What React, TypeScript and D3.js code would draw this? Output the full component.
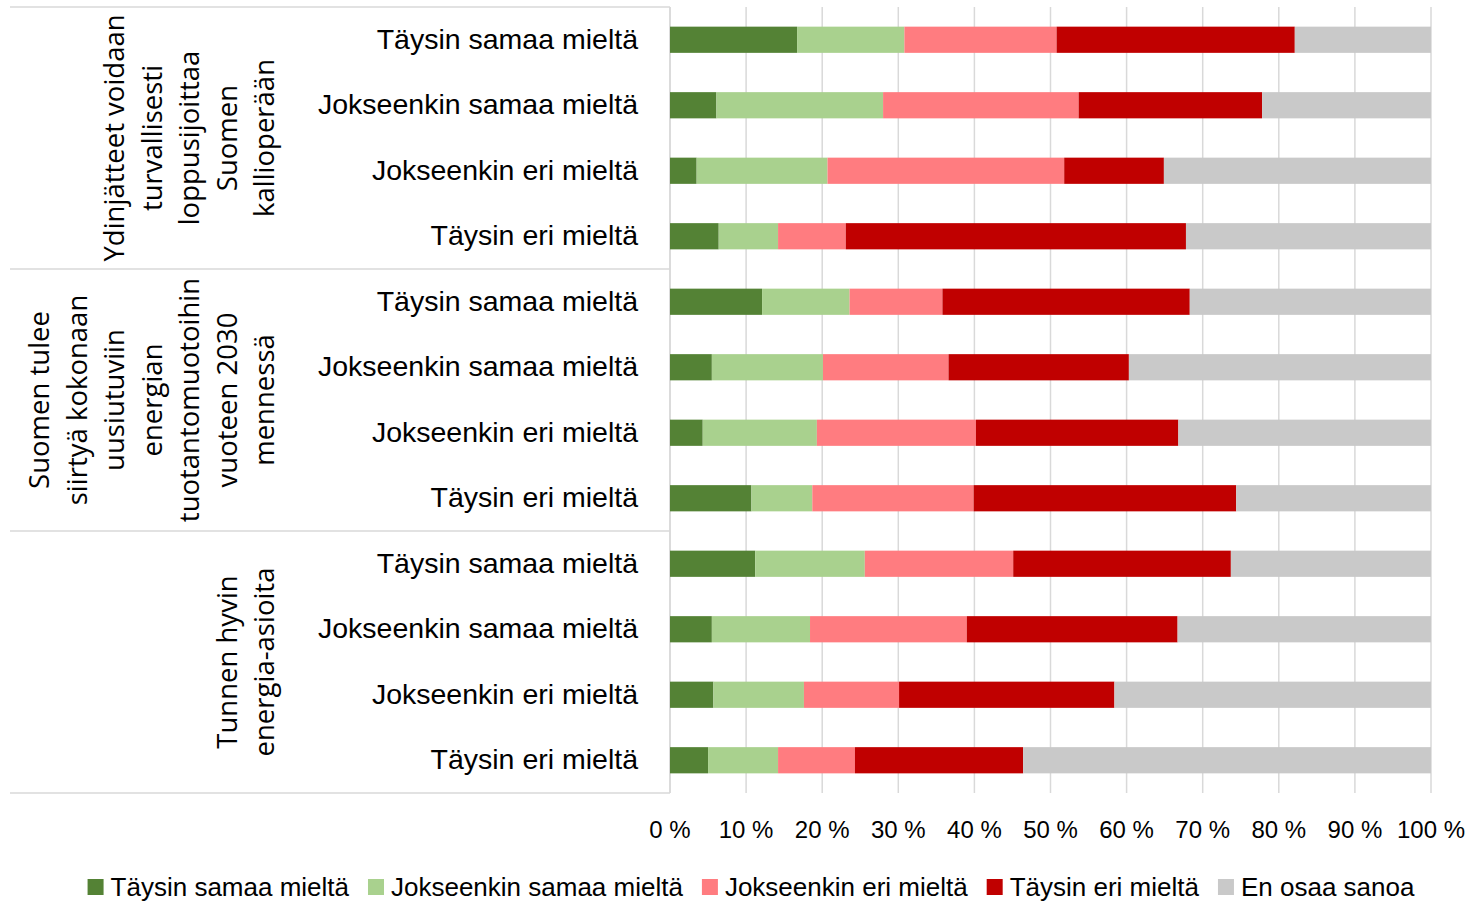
import React, { useEffect } from 'react';
import * as d3 from 'd3';

const answers = ['Täysin samaa mieltä', 'Jokseenkin samaa mieltä', 'Jokseenkin eri mieltä', 'Täysin eri mieltä'];

const groups = [
  ['Ydinjätteet voidaan', 'turvallisesti', 'loppusijoittaa', 'Suomen', 'kallioperään'],
  ['Suomen tulee', 'siirtyä kokonaan', 'uusiutuviin', 'energian', 'tuotantomuotoihin', 'vuoteen 2030', 'mennessä'],
  ['Tunnen hyvin', 'energia-asioita'],
];

const seriesNames = ['Täysin samaa mieltä', 'Jokseenkin samaa mieltä', 'Jokseenkin eri mieltä', 'Täysin eri mieltä', 'En osaa sanoa'];
const seriesColors = ['#548235', '#a9d18e', '#ff7c80', '#c00000', '#c9c9c9'];

// one value per row, top to bottom (percent)
const taysinSamaa = [16.7, 6.1, 3.5, 6.4, 12.1, 5.5, 4.3, 10.7, 11.2, 5.5, 5.7, 5.0];
const jokseenkinSamaa = [14.1, 21.9, 17.2, 7.8, 11.5, 14.6, 15.0, 8.0, 14.4, 12.9, 11.9, 9.2];
const jokseenkinEri = [20.0, 25.7, 31.1, 8.9, 12.2, 16.5, 20.9, 21.2, 19.5, 20.6, 12.5, 10.1];
const taysinEri = [31.3, 24.1, 13.1, 44.7, 32.5, 23.7, 26.6, 34.5, 28.6, 27.7, 28.3, 22.1];
const enOsaa = [17.9, 22.2, 35.1, 32.2, 31.7, 39.7, 33.2, 25.6, 26.3, 33.3, 41.6, 53.6];

const ticks = [0, 10, 20, 30, 40, 50, 60, 70, 80, 90, 100];

const W = 1475;
const H = 902;
const plotL = 670;
const plotR = 1431;
const plotT = 7;
const plotB = 793;
const frameL = 10;

const labelFont = '"Liberation Sans", Arial, sans-serif';
const groupFont = '"Open Sans", sans-serif';

const measure = (text: string, font: string) => {
  const ctx = document.createElement('canvas').getContext('2d');
  if (!ctx) return text.length * 12;
  ctx.font = font;
  return ctx.measureText(text).width;
};

export default function App() {
  useEffect(() => {
    document.body.style.margin = '0';
  }, []);

  const rows = groups.flatMap((g, gi) => answers.map((a, ai) => `${gi}-${ai}`));
  const table = rows.map((id, i) => ({
    id,
    s0: taysinSamaa[i],
    s1: jokseenkinSamaa[i],
    s2: jokseenkinEri[i],
    s3: taysinEri[i],
    s4: enOsaa[i],
  }));
  const keys = ['s0', 's1', 's2', 's3', 's4'];
  const stacked = d3.stack<any>().keys(keys).offset(d3.stackOffsetExpand)(table);

  const x = d3.scaleLinear().domain([0, 1]).range([plotL, plotR]);
  const y = d3.scaleBand<string>().domain(rows).range([plotT, plotB]).paddingInner(0.6).paddingOuter(0.3);
  const step = y.step();
  const groupEdges = groups.map((g, gi) => plotT + gi * answers.length * step).concat([plotB]);

  // legend layout, centred
  const legendFontSize = 26;
  const legendWidths = seriesNames.map(n => measure(n, `${legendFontSize}px ${labelFont}`));
  const sw = 16;
  const swGap = 7;
  const itemGap = 19;
  const total = legendWidths.reduce((s, w) => s + sw + swGap + w, 0) + itemGap * (seriesNames.length - 1);
  let lx = 751 - total / 2;
  const legendX = legendWidths.map(w => {
    const p = lx;
    lx += sw + swGap + w + itemGap;
    return p;
  });

  const lineH = 37.5;
  const lastBaseline = 274;

  return (
    <svg width={W} height={H} style={{ display: 'block', background: '#fff' }}>
      {/* gridlines */}
      {ticks.map(t => (
        <line key={t} x1={x(t / 100)} x2={x(t / 100)} y1={plotT} y2={plotB} stroke="#d9d9d9" strokeWidth={1.5} />
      ))}

      {/* category frame lines */}
      {groupEdges.map((e, i) => (
        <line key={i} x1={frameL} x2={plotL} y1={e} y2={e} stroke="#d9d9d9" strokeWidth={1.5} />
      ))}
      <line x1={plotL} x2={plotL} y1={plotT} y2={plotB} stroke="#d9d9d9" strokeWidth={1.5} />

      {/* bars */}
      {stacked.map((layer, li) => (
        <g key={li} fill={seriesColors[li]}>
          {layer.map((d, i) => (
            <rect key={i} x={x(d[0])} y={y(rows[i])} width={x(d[1]) - x(d[0])} height={y.bandwidth()} />
          ))}
        </g>
      ))}

      {/* answer labels */}
      {rows.map((r, i) => (
        <text key={r} x={638} y={(y(r) as number) + y.bandwidth() / 2 + 9} textAnchor="end"
          fontFamily={labelFont} fontSize={28.5} fill="#000">
          {answers[i % answers.length]}
        </text>
      ))}

      {/* group labels, rotated */}
      {groups.map((lines, gi) => {
        const cy = (groupEdges[gi] + groupEdges[gi + 1]) / 2;
        return lines.map((ln, li) => {
          const bx = lastBaseline - (lines.length - 1 - li) * lineH;
          return (
            <text key={`${gi}-${li}`} transform={`translate(${bx},${cy}) rotate(-90)`} textAnchor="middle"
              fontFamily={groupFont} fontSize={27.5} fill="#000">
              {ln}
            </text>
          );
        });
      })}

      {/* x axis ticks */}
      {ticks.map(t => (
        <text key={t} x={x(t / 100)} y={838} textAnchor="middle" fontFamily={labelFont} fontSize={24} fill="#000">
          {`${t} %`}
        </text>
      ))}

      {/* legend */}
      {seriesNames.map((n, i) => (
        <g key={n} transform={`translate(${legendX[i]},887)`}>
          <rect x={0} y={-8} width={sw} height={sw} fill={seriesColors[i]} />
          <text x={sw + swGap} y={9} fontFamily={labelFont} fontSize={legendFontSize} fill="#000">{n}</text>
        </g>
      ))}
    </svg>
  );
}
